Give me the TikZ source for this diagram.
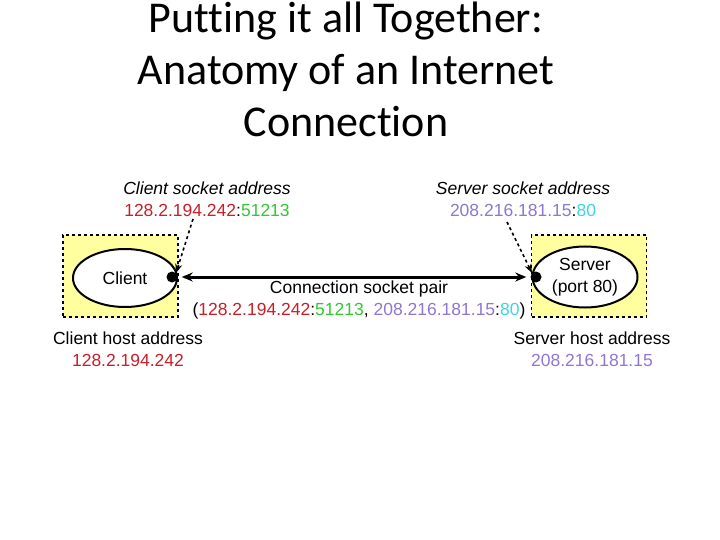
\documentclass[tikz,border=0pt]{standalone}
\usepackage{fontspec}
\setmainfont{Liberation Sans}
\newfontfamily\titlefont[Ligatures=NoCommon]{Carlito}
\usetikzlibrary{arrows.meta,shapes.geometric}
\definecolor{ipred}{RGB}{200,30,40}
\definecolor{portgreen}{RGB}{50,200,50}
\definecolor{ippurple}{RGB}{140,120,210}
\definecolor{portcyan}{RGB}{60,215,225}
\definecolor{hostyellow}{RGB}{255,255,160}
\tikzset{
  hostbox/.style={draw, dashed, line width=1.8pt, fill=hostyellow, minimum width=115pt, minimum height=82pt},
  proc/.style={draw, ellipse, line width=2pt, fill=white, minimum width=104pt, minimum height=58pt, align=center, inner sep=0pt, font=\fontsize{17.5}{22}\selectfont},
  lbl/.style={font=\fontsize{17.5}{22}\selectfont, align=center, inner sep=0pt},
  sockdot/.style={circle, fill=black, minimum size=11pt, inner sep=0pt},
  ptr/.style={dashed, line width=1.6pt, -{Stealth[length=9pt,width=7pt]}},
  conn/.style={line width=3pt, {Stealth[length=11pt,width=9pt]}-{Stealth[length=11pt,width=9pt]}, shorten <=4pt, shorten >=4pt}
}
\begin{document}
\begin{tikzpicture}[x=1pt,y=-1pt]
\useasboundingbox (0,0) rectangle (720,540);
\node[font=\titlefont\fontsize{44}{52}\selectfont, align=center] (title) at (346,69.5) {Putting it all Together:\\Anatomy of an Internet\\Connection};
\node[hostbox] (chost) at (120.5,276) {};
\node[hostbox] (shost) at (589,276) {};
\node[proc] (client) at (125,278) {Client};
\node[proc, minimum width=105pt, minimum height=61pt] (server) at (585,277) {Server\\(port 80)};
\node[sockdot] (cdot) at (172,277) {};
\node[sockdot] (sdot) at (536,277) {};
\draw[conn] (cdot) -- (sdot);
\node[lbl] (csock) at (207,199.5) {\textit{Client socket address}\\\textcolor{ipred}{128.2.194.242}:\textcolor{portgreen}{51213}};
\node[lbl] (ssock) at (523,199.5) {\textit{Server socket address}\\\textcolor{ippurple}{208.216.181.15}:\textcolor{portcyan}{80}};
\node[lbl] (pair) at (359,300) {Connection socket pair\\(\textcolor{ipred}{128.2.194.242}:\textcolor{portgreen}{51213}, \textcolor{ippurple}{208.216.181.15}:\textcolor{portcyan}{80})};
\node[lbl] (chaddr) at (128,349) {Client host address\\\textcolor{ipred}{128.2.194.242}};
\node[lbl] (shaddr) at (592,349) {Server host address\\\textcolor{ippurple}{208.216.181.15}};
\coordinate (cptr) at (193,219);
\coordinate (sptr) at (507,222);
\draw[ptr] (cptr) -- (cdot.north east);
\draw[ptr] (sptr) -- (sdot.north west);
\end{tikzpicture}
\end{document}
